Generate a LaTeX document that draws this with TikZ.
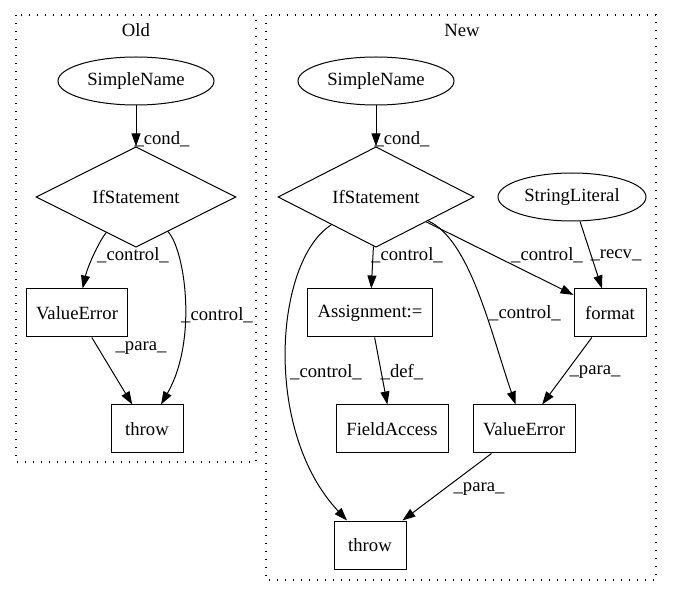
\documentclass[tikz,border=0pt]{standalone}
\usepackage{fontspec}
\setmainfont{Liberation Serif}
\usetikzlibrary{shapes.geometric,arrows.meta}
\begin{document}
\begin{tikzpicture}[x=1pt,y=-1pt,
  every node/.style={font=\fontsize{18.67}{22}\selectfont, inner sep=0pt},
  boxn/.style={draw, line width=1pt, rectangle, minimum height=48pt},
  elln/.style={draw, line width=1pt, ellipse, minimum width=156pt, minimum height=48pt},
  dian/.style={draw, line width=1pt, diamond, minimum width=200pt, minimum height=48pt},
  arr/.style={line width=1pt, -{Triangle[length=13pt,width=9pt]}},
  clus/.style={line width=1.2pt, dash pattern=on 1.4pt off 6.6pt},
  lab/.style={anchor=center}]
\useasboundingbox (0,0) rectangle (673,596);
% clusters
\draw[clus] (16,15) rectangle (256,462);
\draw[clus] (266,15) rectangle (656,580);
\node (tOld) at (136,30) {Old};
\node (tNew) at (462,30) {New};
% Old
\node[elln] (sno) at (136,81) {SimpleName};
\node[dian] (ifo) at (136,197) {IfStatement};
\node[boxn, minimum width=101pt] (veo) at (77,313) {ValueError};
\node[boxn, minimum width=72pt] (tho) at (147,429) {throw};
\draw[arr] (sno) -- (ifo);
\draw[arr] (ifo) .. controls (100,240) and (88,265) .. (veo);
\draw[arr] (ifo) .. controls (185,250) and (198,340) .. (tho);
\draw[arr] (veo) -- (tho);
\node[lab] (l1) at (162,139) {\_cond\_};
\node[lab] (l2) at (133,255) {\_control\_};
\node[lab] (l3) at (217,315) {\_control\_};
\node[lab] (l4) at (141,348) {\_para\_};
% New
\node[elln] (snn) at (376,81) {SimpleName};
\node[dian, minimum width=196pt] (ifn) at (376,197) {IfStatement};
\node[elln, minimum width=148pt] (strl) at (572,197) {StringLiteral};
\node[boxn, minimum width=125pt] (asg) at (370,313) {Assignment:=};
\node[boxn, minimum width=72pt] (fmt) at (610,313) {format};
\node[boxn, minimum width=112pt] (fa) at (392,429) {FieldAccess};
\node[boxn, minimum width=102pt] (ven) at (524,429) {ValueError};
\node[boxn, minimum width=72pt] (thn) at (370,545) {throw};
\draw[arr] (snn) -- (ifn);
\draw[arr] (ifn) -- (asg);
\draw[arr] (ifn) -- (fmt);
\draw[arr] (ifn) .. controls (470,240) and (490,330) .. (ven);
\draw[arr] (ifn) .. controls (275,260) and (262,430) .. (thn);
\draw[arr] (strl) -- (fmt);
\draw[arr] (asg) -- (fa);
\draw[arr] (fmt) -- (ven);
\draw[arr] (ven) -- (thn);
\node[lab] (m1) at (402,139) {\_cond\_};
\node[lab] (m2) at (407,255) {\_control\_};
\node[lab] (m3) at (547,255) {\_control\_};
\node[lab] (m4) at (616,255) {\_recv\_};
\node[lab] (m5) at (525,313) {\_control\_};
\node[lab] (m6) at (326,372) {\_control\_};
\node[lab] (m7) at (402,372) {\_def\_};
\node[lab] (m8) at (595,372) {\_para\_};
\node[lab] (m9) at (479,489) {\_para\_};
\end{tikzpicture}
\end{document}
